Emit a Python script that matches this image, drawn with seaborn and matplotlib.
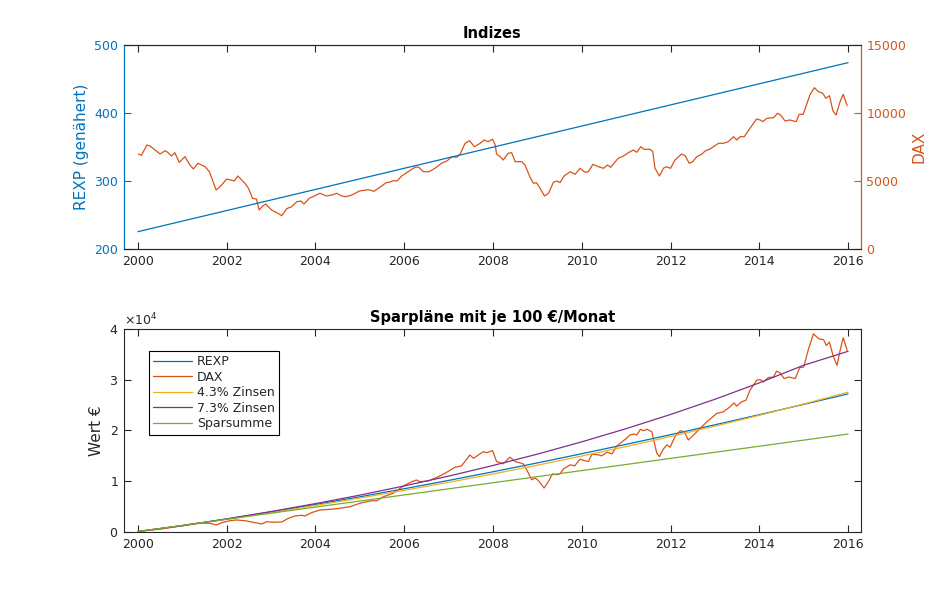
import numpy as np
import pandas as pd
import matplotlib
matplotlib.use("Agg")
import matplotlib.pyplot as plt
import seaborn as sns
from matplotlib.ticker import FixedLocator, ScalarFormatter

# ---------------- data ----------------
# top panel: REXP (approximated, linear) and DAX index
rexp_years = [2000.0, 2016.0]
rexp_index = [225.5, 474.0]

dax_years = [
    2000.01, 2000.08, 2000.20, 2000.27, 2000.50, 2000.61, 2000.66, 2000.76, 2000.83, 2000.93,
    2001.06, 2001.17, 2001.25, 2001.35, 2001.51, 2001.61, 2001.76, 2001.85,
    2002.00, 2002.17, 2002.25, 2002.41, 2002.49, 2002.58, 2002.67, 2002.73, 2002.81, 2002.88,
    2003.01, 2003.13, 2003.24, 2003.35, 2003.46, 2003.58, 2003.67, 2003.74, 2003.86, 2003.99,
    2004.10, 2004.25, 2004.37, 2004.48, 2004.59, 2004.69, 2004.82, 2004.99,
    2005.19, 2005.32, 2005.45, 2005.59, 2005.68, 2005.75, 2005.84, 2005.94,
    2006.09, 2006.24, 2006.32, 2006.43, 2006.56, 2006.69, 2006.84, 2006.97,
    2007.07, 2007.18, 2007.26, 2007.37, 2007.47, 2007.58, 2007.71, 2007.80, 2007.89, 2007.99,
    2008.05, 2008.08, 2008.16, 2008.23, 2008.34, 2008.42, 2008.50, 2008.65, 2008.72, 2008.83, 2008.91, 2008.98,
    2009.06, 2009.16, 2009.25, 2009.36, 2009.44, 2009.51, 2009.60, 2009.74, 2009.85, 2009.96,
    2010.07, 2010.15, 2010.25, 2010.37, 2010.49, 2010.58, 2010.65, 2010.82, 2010.94,
    2011.05, 2011.16, 2011.24, 2011.33, 2011.40, 2011.54, 2011.60, 2011.65, 2011.75, 2011.84, 2011.90,
    2012.00, 2012.10, 2012.25, 2012.33, 2012.42, 2012.50, 2012.59, 2012.70, 2012.78, 2012.89,
    2013.08, 2013.19, 2013.30, 2013.42, 2013.49, 2013.57, 2013.66, 2013.79, 2013.94,
    2014.02, 2014.08, 2014.17, 2014.32, 2014.41, 2014.48, 2014.58, 2014.69, 2014.83, 2014.90, 2014.99,
    2015.14, 2015.24, 2015.33, 2015.43, 2015.50, 2015.58, 2015.66, 2015.73, 2015.82, 2015.89, 2015.98,
]
dax_index = [
    6985, 6890, 7647, 7574, 6985, 7228, 7132, 6838, 7081, 6375,
    6787, 6177, 5882, 6302, 6052, 5684, 4338, 4581,
    5147, 5000, 5368, 4831, 4463, 3728, 3677, 2868, 3162, 3309,
    2868, 2669, 2449, 2963, 3110, 3478, 3529, 3309, 3728, 3919,
    4096, 3897, 3971, 4096, 3897, 3846, 3971, 4265,
    4360, 4243, 4537, 4875, 4927, 5022, 5000, 5368,
    5684, 6007, 6029, 5684, 5684, 5934, 6302, 6493,
    6787, 6743, 6985, 7772, 7963, 7522, 7772, 8015, 7890, 8066,
    7647, 6985, 6787, 6544, 7037, 7081, 6419, 6419, 6177, 5316, 4831, 4875,
    4463, 3897, 4096, 4904, 5000, 4875, 5368, 5684, 5493, 5934,
    5640, 5684, 6228, 6052, 5934, 6177, 6007, 6669, 6838,
    7081, 7279, 7110, 7522, 7331, 7331, 7155, 5934, 5368, 5934, 6052,
    5934, 6544, 6985, 6860, 6302, 6419, 6787, 6963, 7206, 7353,
    7772, 7772, 7890, 8257, 8015, 8257, 8257, 8875, 9559,
    9485, 9360, 9610, 9655, 9978, 9853, 9412, 9485, 9360, 9905, 9905,
    11324, 11860, 11566, 11449, 11081, 11272, 10147, 9853, 10831, 11375, 10537,
]

# bottom panel: savings plans with 100 EUR/month
plan_years = [2000, 2001, 2002, 2003, 2004, 2005, 2006, 2007, 2008,
              2009, 2010, 2011, 2012, 2013, 2014, 2015, 2016]
rexp_plan = [100, 1240, 2560, 3950, 5410, 6930, 8520, 10160, 11860,
             13610, 15420, 17270, 19170, 21120, 23110, 25140, 27210]
zins43_plan = [100, 1220, 2500, 3840, 5230, 6680, 8200, 9780, 11430,
               13160, 14960, 16840, 18800, 20850, 22990, 25220, 27550]
zins73_plan = [100, 1240, 2580, 4030, 5590, 7260, 9070, 11010, 13100,
               15340, 17760, 20360, 23150, 26150, 29380, 32850, 35600]
sparsumme_years = [2000, 2016]
sparsumme = [100, 19300]

dax_plan_years = [
    2000.01, 2000.50, 2000.95, 2001.32, 2001.62, 2001.77, 2001.89,
    2002.07, 2002.22, 2002.41, 2002.64, 2002.79, 2002.90,
    2003.05, 2003.24, 2003.39, 2003.54, 2003.69, 2003.76, 2003.91,
    2004.10, 2004.33, 2004.48, 2004.63, 2004.78,
    2005.00, 2005.23, 2005.38, 2005.53, 2005.75, 2005.98,
    2006.17, 2006.28, 2006.35, 2006.54, 2006.77, 2006.92,
    2007.14, 2007.29, 2007.48, 2007.56, 2007.78, 2007.86, 2007.99,
    2008.08, 2008.23, 2008.38, 2008.50, 2008.68, 2008.76, 2008.87, 2008.95,
    2009.02, 2009.15, 2009.25, 2009.34, 2009.42, 2009.51, 2009.59, 2009.74, 2009.84, 2009.96,
    2010.05, 2010.15, 2010.23, 2010.38, 2010.45, 2010.57, 2010.68, 2010.79, 2010.98,
    2011.09, 2011.17, 2011.24, 2011.32, 2011.39, 2011.47, 2011.58, 2011.62, 2011.69, 2011.75, 2011.84, 2011.92, 2011.99,
    2012.10, 2012.22, 2012.31, 2012.40, 2012.52, 2012.67, 2012.82,
    2013.04, 2013.19, 2013.34, 2013.43, 2013.49, 2013.60, 2013.70, 2013.79, 2013.94,
    2014.02, 2014.09, 2014.20, 2014.32, 2014.39, 2014.47, 2014.56, 2014.66, 2014.81, 2014.91,
    2015.00, 2015.11, 2015.22, 2015.34, 2015.45, 2015.51, 2015.58, 2015.66, 2015.75, 2015.82, 2015.89, 2015.98,
]
dax_plan = [
    100, 560, 1182, 1714, 1714, 1379, 1832,
    2226, 2364, 2226, 1832, 1576, 2029,
    1911, 1970, 2699, 3152, 3290, 3152, 3803,
    4335, 4473, 4591, 4788, 4985,
    5655, 6108, 6167, 6955, 7624, 9062,
    9911, 10245, 9911, 10049, 10896, 11565,
    12748, 13004, 15171, 14522, 15822, 15625, 16019,
    13877, 13426, 14739, 13877, 13426, 12250, 10290, 10623,
    10153, 8663, 9957, 11466, 11270, 11466, 12446, 13230, 13034, 14347,
    14073, 13877, 15327, 15190, 14994, 15719, 15386, 16954, 18267,
    19110, 19306, 19110, 20227, 19953, 20227, 19757, 18130, 15523, 14857, 16366, 17150, 16699,
    18777, 19953, 19757, 18130, 19110, 20423, 21717,
    23363, 23677, 24657, 25441, 24794, 25637, 25970, 27930, 29890,
    30027, 29557, 30419, 30537, 31713, 31321, 30223, 30537, 30223, 32379,
    32497, 36103, 39043, 38063, 37867, 36750, 37397, 34790, 32830, 35770, 38259, 35770,
]

x_ticks = [2000, 2002, 2004, 2006, 2008, 2010, 2012, 2014, 2016]

# ---------------- style ----------------
sns.set_theme(style="white")
plt.rcParams['font.family'] = ['DejaVu Sans']
plt.rcParams['axes.linewidth'] = 0.8

C_BLUE = "#0072BD"
C_ORANGE = "#D95319"
C_YELLOW = "#EDB120"
C_PURPLE = "#7E2F8E"
C_GREEN = "#77AC30"
C_AX = "#262626"
LW = 0.9
TICK_FS = 9
LABEL_FS = 11
XLIM = (1999.685, 2016.29)

fig = plt.figure(figsize=(9.53, 5.99), dpi=100)

# ---------------- top panel ----------------
ax1 = fig.add_axes([0.1301, 0.5843, 0.7733, 0.3406])
ax2 = ax1.twinx()

df_rexp = pd.DataFrame({"Jahr": rexp_years, "REXP": rexp_index})
df_dax = pd.DataFrame({"Jahr": dax_years, "DAX": dax_index})

sns.lineplot(data=df_dax, x="Jahr", y="DAX", ax=ax2, color=C_ORANGE, linewidth=LW)
sns.lineplot(data=df_rexp, x="Jahr", y="REXP", ax=ax1, color=C_BLUE, linewidth=LW)

ax1.set_zorder(ax2.get_zorder() + 1)
ax1.patch.set_visible(False)

ax1.set_xlim(*XLIM)
ax1.set_ylim(200, 500)
ax2.set_ylim(0, 15000)
ax1.set_yticks([200, 300, 400, 500])
ax2.set_yticks([0, 5000, 10000, 15000])
ax1.set_xticks(x_ticks)
ax1.set_xticklabels([str(t) for t in x_ticks])

ax1.set_xlabel("")
ax1.set_ylabel("REXP (genähert)", color=C_BLUE, fontsize=LABEL_FS)
ax2.set_ylabel("DAX", color=C_ORANGE, fontsize=LABEL_FS)
ax1.set_title("Indizes", fontsize=10.5, fontweight="bold", color="black", pad=5)

for ax in (ax1, ax2):
    ax.spines["left"].set_color(C_BLUE)
    ax.spines["right"].set_color(C_ORANGE)
    ax.spines["top"].set_color(C_AX)
    ax.spines["bottom"].set_color(C_AX)
    for s in ax.spines.values():
        s.set_linewidth(0.8)

ax1.tick_params(axis="x", which="major", direction="in", length=5, width=0.8,
                top=True, bottom=True, colors=C_AX, labelsize=TICK_FS, pad=4)
ax1.tick_params(axis="y", which="major", direction="in", length=5, width=0.8,
                left=True, right=False, colors=C_BLUE, labelsize=TICK_FS, pad=4)
ax1.yaxis.set_minor_locator(FixedLocator([400]))
ax1.tick_params(axis="y", which="minor", direction="in", length=5, width=1.2,
                left=False, right=True, colors=C_BLUE)
ax2.tick_params(axis="y", which="major", direction="in", length=5, width=0.8,
                left=False, right=True, colors=C_ORANGE, labelsize=TICK_FS, pad=4)

# ---------------- bottom panel ----------------
ax3 = fig.add_axes([0.1301, 0.1119, 0.7733, 0.3389])

df_plan = pd.DataFrame({"Jahr": plan_years, "REXP": rexp_plan,
                        "Z43": zins43_plan, "Z73": zins73_plan})
df_dplan = pd.DataFrame({"Jahr": dax_plan_years, "DAX": dax_plan})
df_spar = pd.DataFrame({"Jahr": sparsumme_years, "Spar": sparsumme})

sns.lineplot(data=df_plan, x="Jahr", y="REXP", ax=ax3, color=C_BLUE, linewidth=LW, label="REXP")
sns.lineplot(data=df_dplan, x="Jahr", y="DAX", ax=ax3, color=C_ORANGE, linewidth=LW, label="DAX")
sns.lineplot(data=df_plan, x="Jahr", y="Z43", ax=ax3, color=C_YELLOW, linewidth=LW, label="4.3% Zinsen")
sns.lineplot(data=df_plan, x="Jahr", y="Z73", ax=ax3, color=C_PURPLE, linewidth=LW, label="7.3% Zinsen")
sns.lineplot(data=df_spar, x="Jahr", y="Spar", ax=ax3, color=C_GREEN, linewidth=LW, label="Sparsumme")

ax3.set_xlim(*XLIM)
ax3.set_ylim(0, 40000)
ax3.set_xticks(x_ticks)
ax3.set_xticklabels([str(t) for t in x_ticks])
ax3.set_yticks([0, 10000, 20000, 30000, 40000])
fmt = ScalarFormatter(useMathText=True)
fmt.set_powerlimits((4, 4))
ax3.yaxis.set_major_formatter(fmt)
ax3.yaxis.get_offset_text().set_fontsize(TICK_FS)
ax3.yaxis.get_offset_text().set_color(C_AX)

ax3.set_xlabel("")
ax3.set_ylabel("Wert €", fontsize=LABEL_FS, color=C_AX)
ax3.set_title("Sparpläne mit je 100 €/Monat", fontsize=10.5, fontweight="bold",
              color="black", pad=5)

for s in ax3.spines.values():
    s.set_color(C_AX)
    s.set_linewidth(0.8)
ax3.tick_params(axis="both", which="major", direction="in", length=5, width=0.8,
                top=True, bottom=True, left=True, right=True,
                colors=C_AX, labelsize=TICK_FS, pad=4)

leg = ax3.legend(loc="upper left", bbox_to_anchor=(0.034, 0.892), fontsize=9,
                 frameon=True, fancybox=False, shadow=False, framealpha=1,
                 edgecolor="black", handlelength=3.1, handletextpad=0.4,
                 labelspacing=0.2, borderpad=0.35, borderaxespad=0)
leg.get_frame().set_linewidth(0.8)
for t in leg.get_texts():
    t.set_color(C_AX)

fig.savefig("out.png", dpi=100, facecolor="white")
